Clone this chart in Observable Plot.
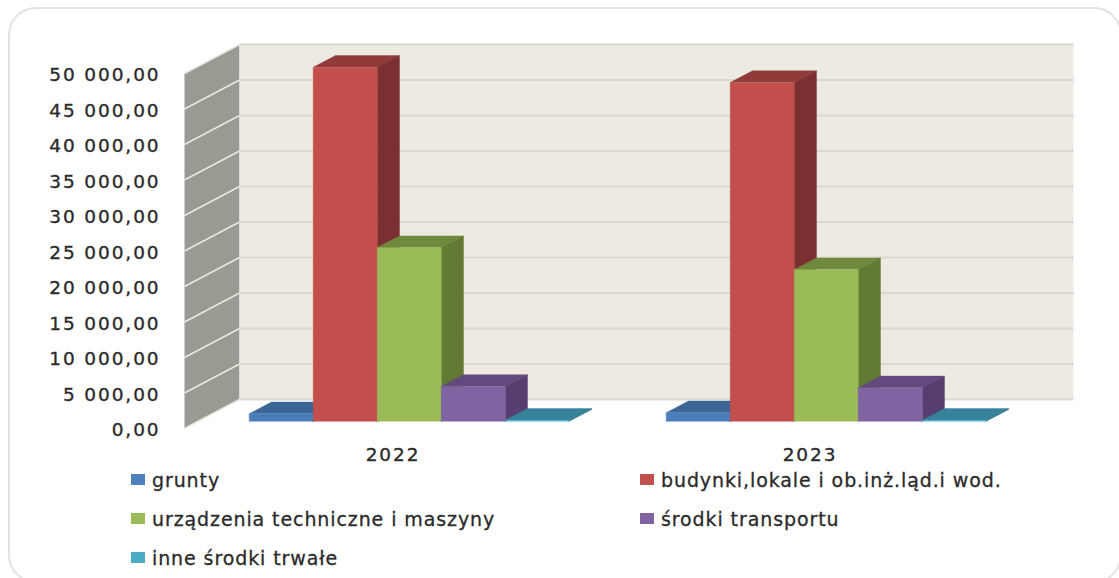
<!DOCTYPE html>
<html lang="pl">
<head>
<meta charset="utf-8">
<script src="https://cdn.jsdelivr.net/npm/d3@7"></script>
<script src="https://cdn.jsdelivr.net/npm/@observablehq/plot@0.6"></script>
<style>
  html, body { margin: 0; padding: 0; width: 1119px; height: 578px; overflow: hidden; background: #fff; }
  #card { position: absolute; left: 8px; top: 7px; width: 1114px; height: 576px; box-sizing: border-box;
          border: 2px solid #e2e2e2; border-radius: 28px; pointer-events: none; }
  #chart { position: absolute; left: 0; top: 0; }
  #chart svg { display: block; }
  #chart svg text { letter-spacing: 1.9px; stroke: #2b2b2b; stroke-width: 0.35px; }
  #legend { position: absolute; left: 131px; top: 460px; display: grid; grid-template-columns: 509px 440px; grid-auto-rows: 39px;
            font: 19px "DejaVu Sans", sans-serif; color: #2b2b2b; letter-spacing: 0.9px; -webkit-text-stroke: 0.3px #2b2b2b; }
  #legend div { display: flex; align-items: center; white-space: nowrap; }
  #legend i { display: inline-block; width: 14px; height: 11px; margin-right: 7px; }
</style>
</head>
<body>
<div id="card"></div>
<div id="chart"></div>
<div id="legend"></div>
<script>
const categories = ["2022", "2023"];
const seriesNames = ["grunty", "budynki,lokale i ob.inż.ląd.i wod.", "urządzenia techniczne i maszyny", "środki transportu", "inne środki trwałe"];
const grunty = [1100, 1250];
const budynki = [49900, 47750];
const urzadzenia = [24500, 21400];
const transport = [4950, 4750];
const inne = [180, 180];
const seriesValues = [grunty, budynki, urzadzenia, transport, inne];
const yTicks = d3.range(0, 50001, 5000);

const legendColors = ["#4f81bd", "#c0504d", "#9bbb59", "#8064a2", "#4bacc6"];
const frontColors = ["#4a7ebb", "#c24f4c", "#9bbb59", "#8064a2", "#4bacc6"];
const topColors = ["#3b6595", "#903b39", "#6f8a3c", "#634a7e", "#358299"];
const sideColors = ["#335a87", "#7c2f30", "#627a34", "#563f70", "#2f7488"];

// Oblique projection of the 3D box, expressed in scale units.
const depthX = 55 / 417;   // one full depth, in category units
const depthY = 4073;       // one full depth, in value units
const barStart = 0.1235;   // first bar's left edge inside a category
const barWidth = 0.1535;
const barDepth0 = 0.24, barDepth1 = 0.645;
const at = (x, v, d) => ({x: x + d * depthX, y: v + d * depthY});

const maxValue = yTicks[yTicks.length - 1];
const maxX = categories.length;

let nextId = 0;
const poly = (list, pts, color) => { const id = nextId++; pts.forEach(p => list.push({...p, id, color})); };

// walls
const wallPolys = [];
poly(wallPolys, [at(0, 0, 0), at(0, maxValue, 0), at(0, maxValue, 1), at(0, 0, 1)], "#9b9a92");
poly(wallPolys, [at(0, 0, 1), at(0, maxValue, 1), at(maxX, maxValue, 1), at(maxX, 0, 1)], "#eceae1");

// bars, painted from left to right
const barPolys = [];
categories.forEach((c, i) => {
  seriesValues.forEach((vals, s) => {
    const x0 = i + barStart + s * barWidth, x1 = x0 + barWidth, v = vals[i];
    poly(barPolys, [at(x0, v, barDepth0), at(x0, v, barDepth1), at(x1, v, barDepth1), at(x1, v, barDepth0)], topColors[s]);
    poly(barPolys, [at(x1, 0, barDepth0), at(x1, v, barDepth0), at(x1, v, barDepth1), at(x1, 0, barDepth1)], sideColors[s]);
    poly(barPolys, [at(x0, 0, barDepth0), at(x0, v, barDepth0), at(x1, v, barDepth0), at(x1, 0, barDepth0)], frontColors[s]);
  });
});

const fmt = d3.formatLocale({decimal: ",", thousands: " ", grouping: [3], currency: ["", ""]}).format(",.2f");

const chart = Plot.plot({
  width: 1119, height: 462,
  marginLeft: 184, marginRight: 101, marginTop: 73, marginBottom: 34,
  x: {domain: [0, maxX], axis: null},
  y: {domain: [0, maxValue], axis: null},
  color: {type: "identity"},
  style: {background: "transparent", overflow: "visible"},
  marks: [
    Plot.line(wallPolys, {x: "x", y: "y", z: "id", fill: "color", stroke: null}),
    Plot.link(yTicks, {x1: () => 0, y1: d => d, x2: () => depthX, y2: d => d + depthY, stroke: "#e9e7e0", strokeWidth: 1.6}),
    Plot.link(yTicks, {x1: () => depthX, y1: d => d + depthY, x2: () => maxX + depthX, y2: d => d + depthY, stroke: "#dad7d1", strokeWidth: 2}),
    Plot.line(barPolys, {x: "x", y: "y", z: "id", fill: "color", stroke: "color", strokeWidth: 0.4}),
    Plot.axisY({ticks: yTicks, tickFormat: fmt, tickSize: 0, tickPadding: 24, anchor: "left", label: null, dy: 2,
                fontFamily: "DejaVu Sans", fontSize: 18.5, fill: "#2b2b2b"}),
    Plot.text(categories, {x: (d, i) => i + 0.5, y: () => 0, text: d => d, dy: 27,
                fontFamily: "DejaVu Sans", fontSize: 18.5, fill: "#2b2b2b"})
  ]
});
document.getElementById("chart").append(chart);

const legend = d3.select("#legend");
seriesNames.forEach((name, i) => {
  const row = legend.append("div");
  row.append("i").style("background", legendColors[i]);
  row.append("span").text(name);
});
</script>
</body>
</html>
